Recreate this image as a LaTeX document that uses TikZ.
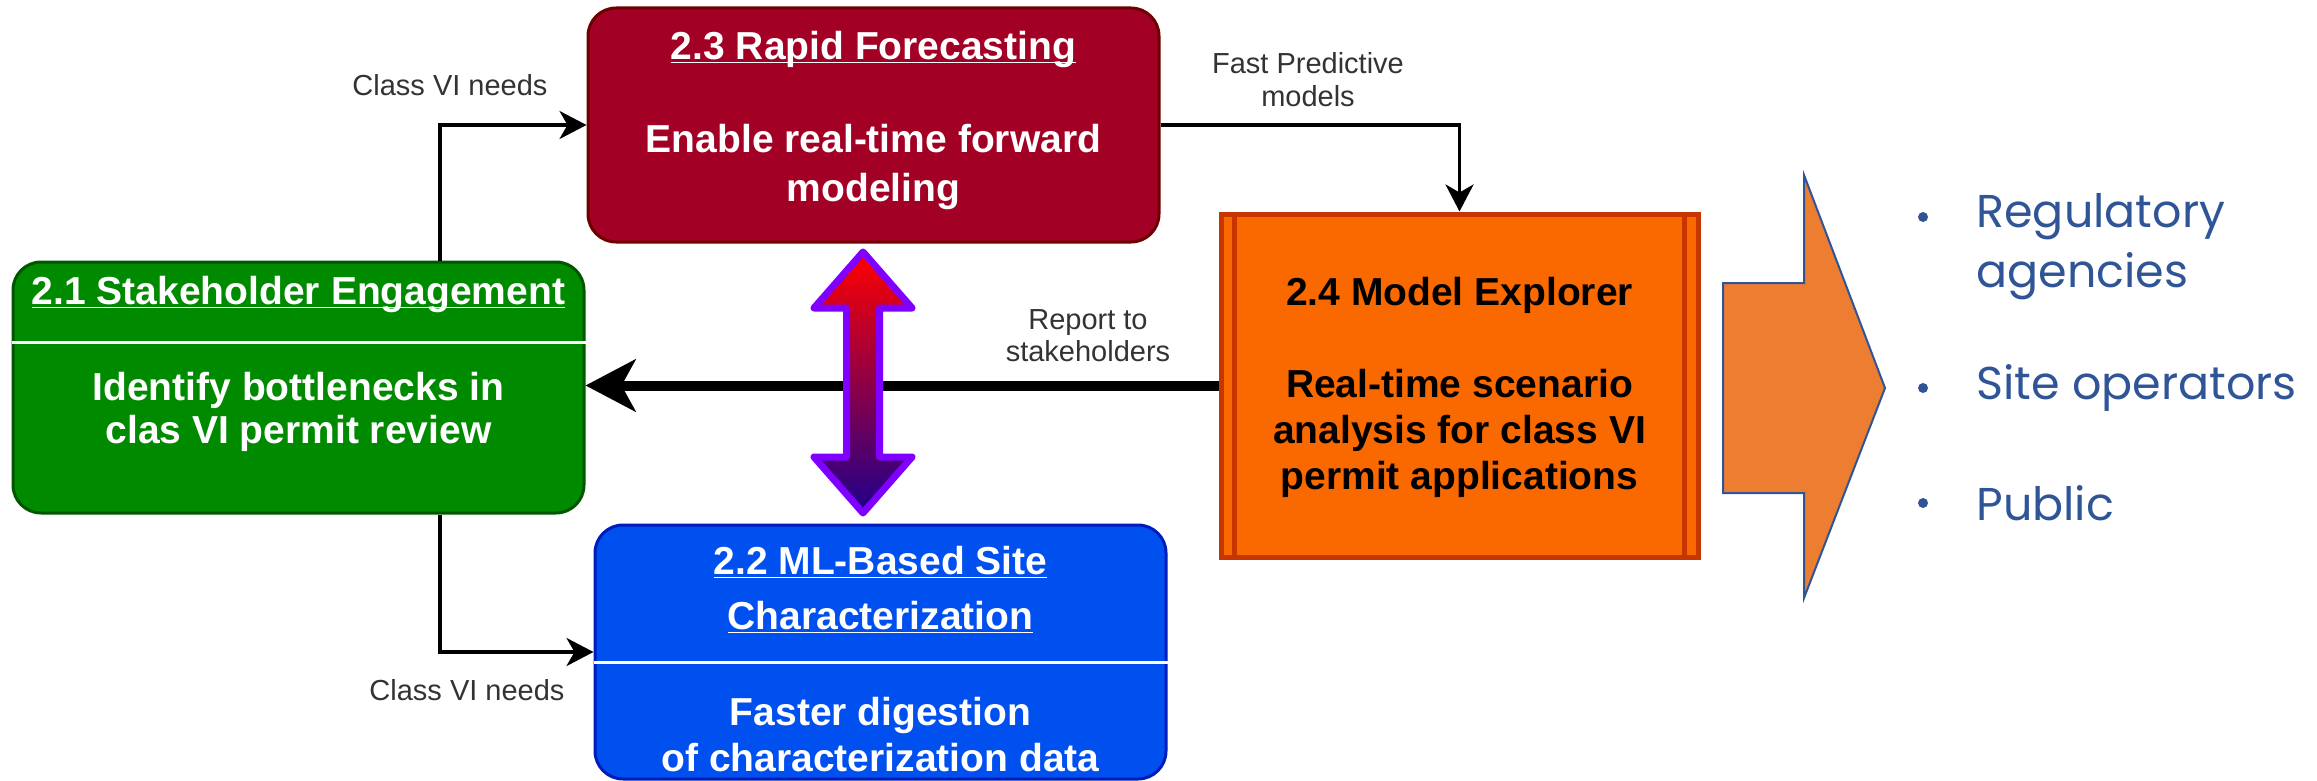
\documentclass[tikz,border=0pt]{standalone}
\usepackage{fontspec}
\setmainfont{Liberation Sans}
\newfontfamily\listfont{Poppins}
\usetikzlibrary{arrows.meta,positioning,calc}
\definecolor{stakeFill}{HTML}{008A00}\definecolor{stakeLine}{HTML}{005700}
\definecolor{foreFill}{HTML}{A20025}\definecolor{foreLine}{HTML}{6F0000}
\definecolor{siteFill}{HTML}{0050EF}\definecolor{siteLine}{HTML}{001DBC}
\definecolor{explFill}{HTML}{FA6800}\definecolor{explLine}{HTML}{C73500}
\definecolor{outFill}{HTML}{ED7D31}\definecolor{listBlue}{HTML}{2F5597}
\definecolor{labelGray}{HTML}{333333}\definecolor{dblLine}{HTML}{7F00FF}
\newcommand{\ulin}[1]{\underline{\smash{#1}}\vphantom{#1}}

\begin{document}
\begin{tikzpicture}[x=0.5pt, y=-0.5pt,
  b/.style={draw=#1Line, fill=#1Fill, line width=1.5pt, rounded corners=14pt, minimum width=285.5pt, inner sep=0pt},
  t/.style={text=white, font=\bfseries\fontsize{19.5}{23}\selectfont, align=center, inner sep=0pt},
  lbl/.style={text=labelGray, font=\fontsize{14.5}{16.5}\selectfont, align=center, inner sep=0pt},
  link/.style={line width=1.75pt, -{Stealth[length=13.5pt,width=14pt,inset=4pt]}},
  report/.style={line width=5pt, -{Stealth[length=25pt,width=26pt,inset=7pt]}},
  dv/.style={draw=white, line width=1.5pt},
  item/.style={text=listBlue, font=\listfont\fontsize{23}{30}\selectfont, align=left, inner sep=0pt, anchor=west},
  dot/.style={circle, fill=listBlue, inner sep=0pt, minimum size=5pt}]
\useasboundingbox (0,0) rectangle (2317,781);
% boxes
\node[b=stake, minimum height=125.5pt] (stake) at (298.5,387.5) {};
\node[b=fore, minimum height=117pt] (fore) at (873.5,125) {};
\node[b=site, minimum height=127pt] (site) at (880.5,652) {};
\node[b=expl, rounded corners=0pt, line width=2.5pt, minimum width=238.5pt, minimum height=171.5pt] (expl) at (1459.5,385.5) {};
\draw[dv] (stake.west |- 0,342) -- (stake.east |- 0,342); \draw[dv] (site.west |- 0,662) -- (site.east |- 0,662);
\draw[draw=explLine, line width=2.5pt] ([xshift=8pt]expl.north west) -- ([xshift=8pt]expl.south west);
\draw[draw=explLine, line width=2.5pt] ([xshift=-8pt]expl.north east) -- ([xshift=-8pt]expl.south east);
% box texts
\node[t] (stakeT) at (298.5,295) {\ulin{2.1 Stakeholder Engagement}};
\node[t, font=\bfseries\fontsize{19.5}{21.5}\selectfont] (stakeB) at (298.5,411.5) {Identify bottlenecks in\\clas VI permit review};
\node[t] (foreT) at (873.5,50) {\ulin{2.3 Rapid Forecasting}};
\node[t, font=\bfseries\fontsize{19.5}{24.5}\selectfont] (foreB) at (873.5,167.5) {Enable real-time forward\\modeling};
\node[t, font=\bfseries\fontsize{19.5}{27.5}\selectfont] (siteT) at (880.5,589.5) {\ulin{2.2 ML-Based Site}\\\ulin{Characterization}};
\node[t] (siteB) at (880.5,735) {Faster digestion\\of characterization data};
\node[t, text=black] (explT) at (1459.5,295) {2.4 Model Explorer};
\node[t, text=black] (explB) at (1459.5,433) {Real-time scenario\\analysis for class VI\\permit applications};
% connectors
\draw[link] ([xshift=70.75pt]stake.north) |- (fore.west); \draw[link] ([xshift=70.75pt]stake.south) |- (site.west);
\draw[link] (fore.east) -| (expl.north); \draw[report] (expl.west) -- (stake.east |- expl.west);
\node[lbl] (needsT) at (450,85) {Class VI needs}; \node[lbl] (needsB) at (467,690) {Class VI needs};
\node[lbl] (fastL) at (1308,80) {Fast Predictive\\models}; \node[lbl, font=\fontsize{14.5}{16}\selectfont] (reportL) at (1088,336) {Report to\\stakeholders};
\shadedraw[draw=dblLine, line width=3.5pt, line join=round, top color=red, bottom color={rgb,255:red,30;green,0;blue,140}]
  (863,252) -- (912,308) -- (879.5,308) -- (879.5,457) -- (912,457) -- (863,513) -- (814,457) -- (846.5,457) -- (846.5,308) -- (814,308) -- cycle;
% audience
\draw[fill=outFill, draw=listBlue, line width=1pt] (1723,283) -- (1804,283) -- (1804,175) -- (1885,388) -- (1804,598) -- (1804,493) -- (1723,493) -- cycle;
\foreach \n/\y/\d/\s in {reg/247/217/{Regulatory\\agencies}, ops/388/388/{Site operators}, pub/503/503/Public} {
  \node[dot] (\n-dot) at (1923,\d) {}; \node[item] (\n) at (1976,\y) {\s};
}
\end{tikzpicture}
\end{document}
